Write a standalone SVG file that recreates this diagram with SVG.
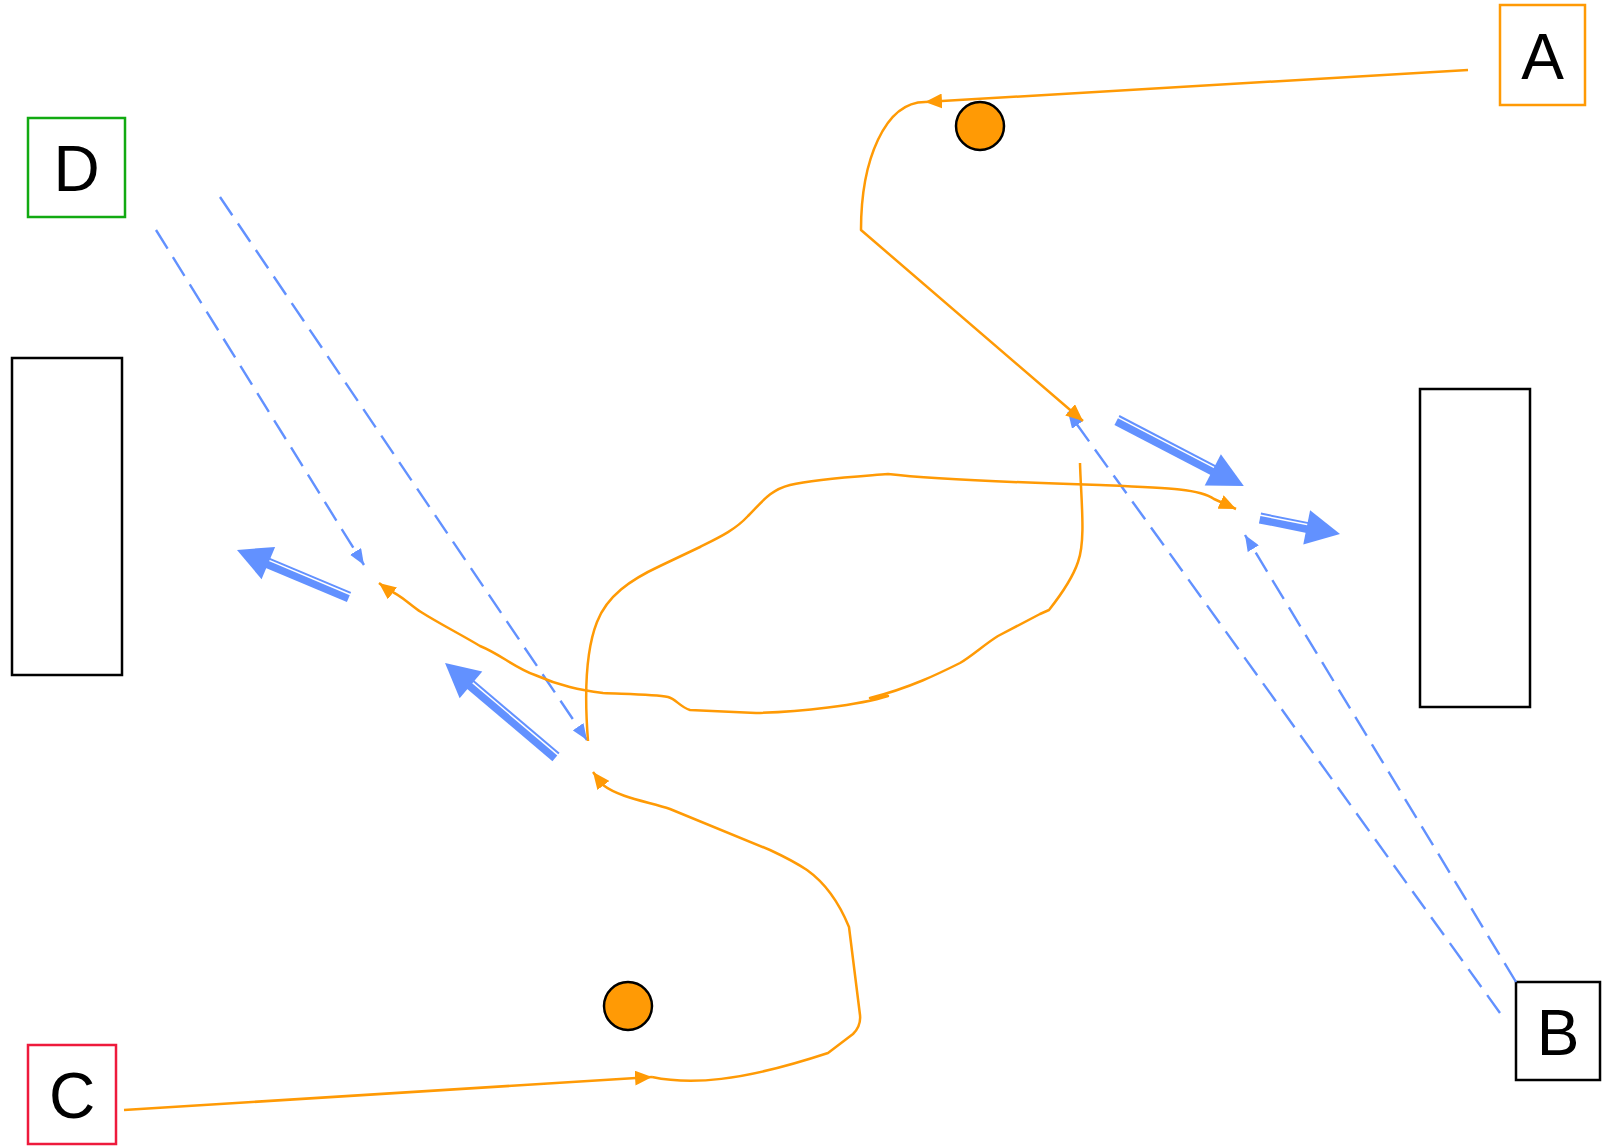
<svg xmlns="http://www.w3.org/2000/svg" width="1602" height="1147" viewBox="0 0 1602 1147">
<style>
.box{fill:#ffffff;stroke-width:2.5}
.lbl{font-family:"Liberation Sans",Arial,sans-serif;font-size:64px;fill:#000;text-anchor:middle}
.dot{fill:#ff9a05;stroke:#000;stroke-width:2.5}
.oc{fill:none;stroke:#ff9a05;stroke-width:2.5;stroke-linejoin:round}
.bd{fill:none;stroke:#6291ff;stroke-width:2.4;stroke-dasharray:22 10}
.bs{stroke:#6291ff;fill:none}
.bh{fill:#6291ff;stroke:none}
</style>
<defs>
<marker id="mo" markerUnits="userSpaceOnUse" viewBox="0 0 17 15" markerWidth="17" markerHeight="15" refX="17" refY="7.5" orient="auto">
<path d="M0,0 L17,7.5 L0,15 z" fill="#ff9a05"/>
</marker>
<marker id="mb" markerUnits="userSpaceOnUse" viewBox="0 0 16 13" markerWidth="16" markerHeight="13" refX="16" refY="6.5" orient="auto">
<path d="M0,0 L16,6.5 L0,13 z" fill="#6291ff"/>
</marker>
</defs>
<rect width="1602" height="1147" fill="#ffffff"/>

<g id="node-A"><rect class="box" x="1500" y="5" width="85" height="100" stroke="#ff9a05"/><text class="lbl" x="1542.5" y="78.5">A</text></g>
<g id="node-B"><rect class="box" x="1516" y="982" width="84" height="98" stroke="#000"/><text class="lbl" x="1558" y="1054.5">B</text></g>
<g id="node-C"><rect class="box" x="28" y="1045" width="88" height="99" stroke="#ee1a3c"/><text class="lbl" x="72" y="1118">C</text></g>
<g id="node-D"><rect class="box" x="28" y="118" width="97" height="99" stroke="#11aa11"/><text class="lbl" x="76.5" y="191">D</text></g>
<g id="node-left"><rect class="box" x="12" y="358" width="110" height="317" stroke="#000"/></g>
<g id="node-right"><rect class="box" x="1420" y="389" width="110" height="318" stroke="#000"/></g>
<g id="node-dot1"><circle class="dot" cx="980" cy="126" r="24"/></g>
<g id="node-dot2"><circle class="dot" cx="628" cy="1006" r="24"/></g>

<g id="connectors">
<line class="bd" x1="156" y1="230" x2="364" y2="565" marker-end="url(#mb)"/>
<line class="bd" x1="220" y1="197" x2="587" y2="740" marker-end="url(#mb)"/>
<line class="bd" x1="1516" y1="982" x2="1245" y2="535" marker-end="url(#mb)"/>
<line class="bd" x1="1500" y1="1013" x2="1068" y2="412" marker-end="url(#mb)"/>

<path class="oc" d="M1468,70 L925,102" marker-end="url(#mo)"/>
<path class="oc" d="M925,102 C885,102 861,160 861,230 L1083,421" marker-end="url(#mo)"/>
<path class="oc" d="M124,1110 L652,1077" marker-end="url(#mo)"/>
<path class="oc" d="M652,1077 C690,1085 740,1082 828,1053 L853,1034 C858,1029 861,1024 860,1015 L849,927 C840,905 828,885 807,870 C795,862 785,857 770,850 L670,809 C650,802 620,798 603,785 L593,772" marker-end="url(#mo)"/>
<path class="oc" d="M588,741 C584,690 586,650 597,622 C607,596 630,580 660,566 L700,547 C720,537 735,530 748,516 C762,502 770,490 790,485 C815,479 850,477 888,474 C930,479 1000,482 1100,485 C1170,488 1200,489 1214,499 L1236,509" marker-end="url(#mo)"/>
<path class="oc" d="M1080,463 C1081,500 1086,540 1078,562 C1072,580 1060,596 1049,610 L1040,614 L998,636 C985,644 972,656 960,663 C940,673 910,688 870,698 L888,696 C860,705 800,712 756,713 L690,710 C680,707 676,699 668,697 C655,694 625,694 603,693 C580,690 560,686 535,675 C515,668 500,654 480,646 C460,634 440,624 421,612 C410,605 400,594 388,590 L379,583" marker-end="url(#mo)"/>

<g transform="translate(1117,420) rotate(27.5)">
<line class="bs" x1="0" y1="1.75" x2="110" y2="1.75" stroke-width="7.5"/>
<line class="bs" x1="0" y1="-4.5" x2="110" y2="-4.5" stroke-width="2"/>
<polygon class="bh" points="108,-17.5 143,0 108,17.5"/>
</g>
<g transform="translate(1260,518) rotate(11.3)">
<line class="bs" x1="0" y1="1.75" x2="48.6" y2="1.75" stroke-width="7.5"/>
<line class="bs" x1="0" y1="-4.5" x2="48.6" y2="-4.5" stroke-width="2"/>
<polygon class="bh" points="47.6,-17.5 81.6,0 47.6,17.5"/>
</g>
<g transform="translate(349,597) rotate(202.8) scale(1,-1)">
<line class="bs" x1="0" y1="1.75" x2="88.5" y2="1.75" stroke-width="7.5"/>
<line class="bs" x1="0" y1="-4.5" x2="88.5" y2="-4.5" stroke-width="2"/>
<polygon class="bh" points="87.5,-17.5 121.5,0 87.5,17.5"/>
</g>
<g transform="translate(556,757) rotate(220.3) scale(1,-1)">
<line class="bs" x1="0" y1="1.75" x2="112.5" y2="1.75" stroke-width="7.5"/>
<line class="bs" x1="0" y1="-4.5" x2="112.5" y2="-4.5" stroke-width="2"/>
<polygon class="bh" points="111.5,-17.5 145.5,0 111.5,17.5"/>
</g>
</g>
</svg>
